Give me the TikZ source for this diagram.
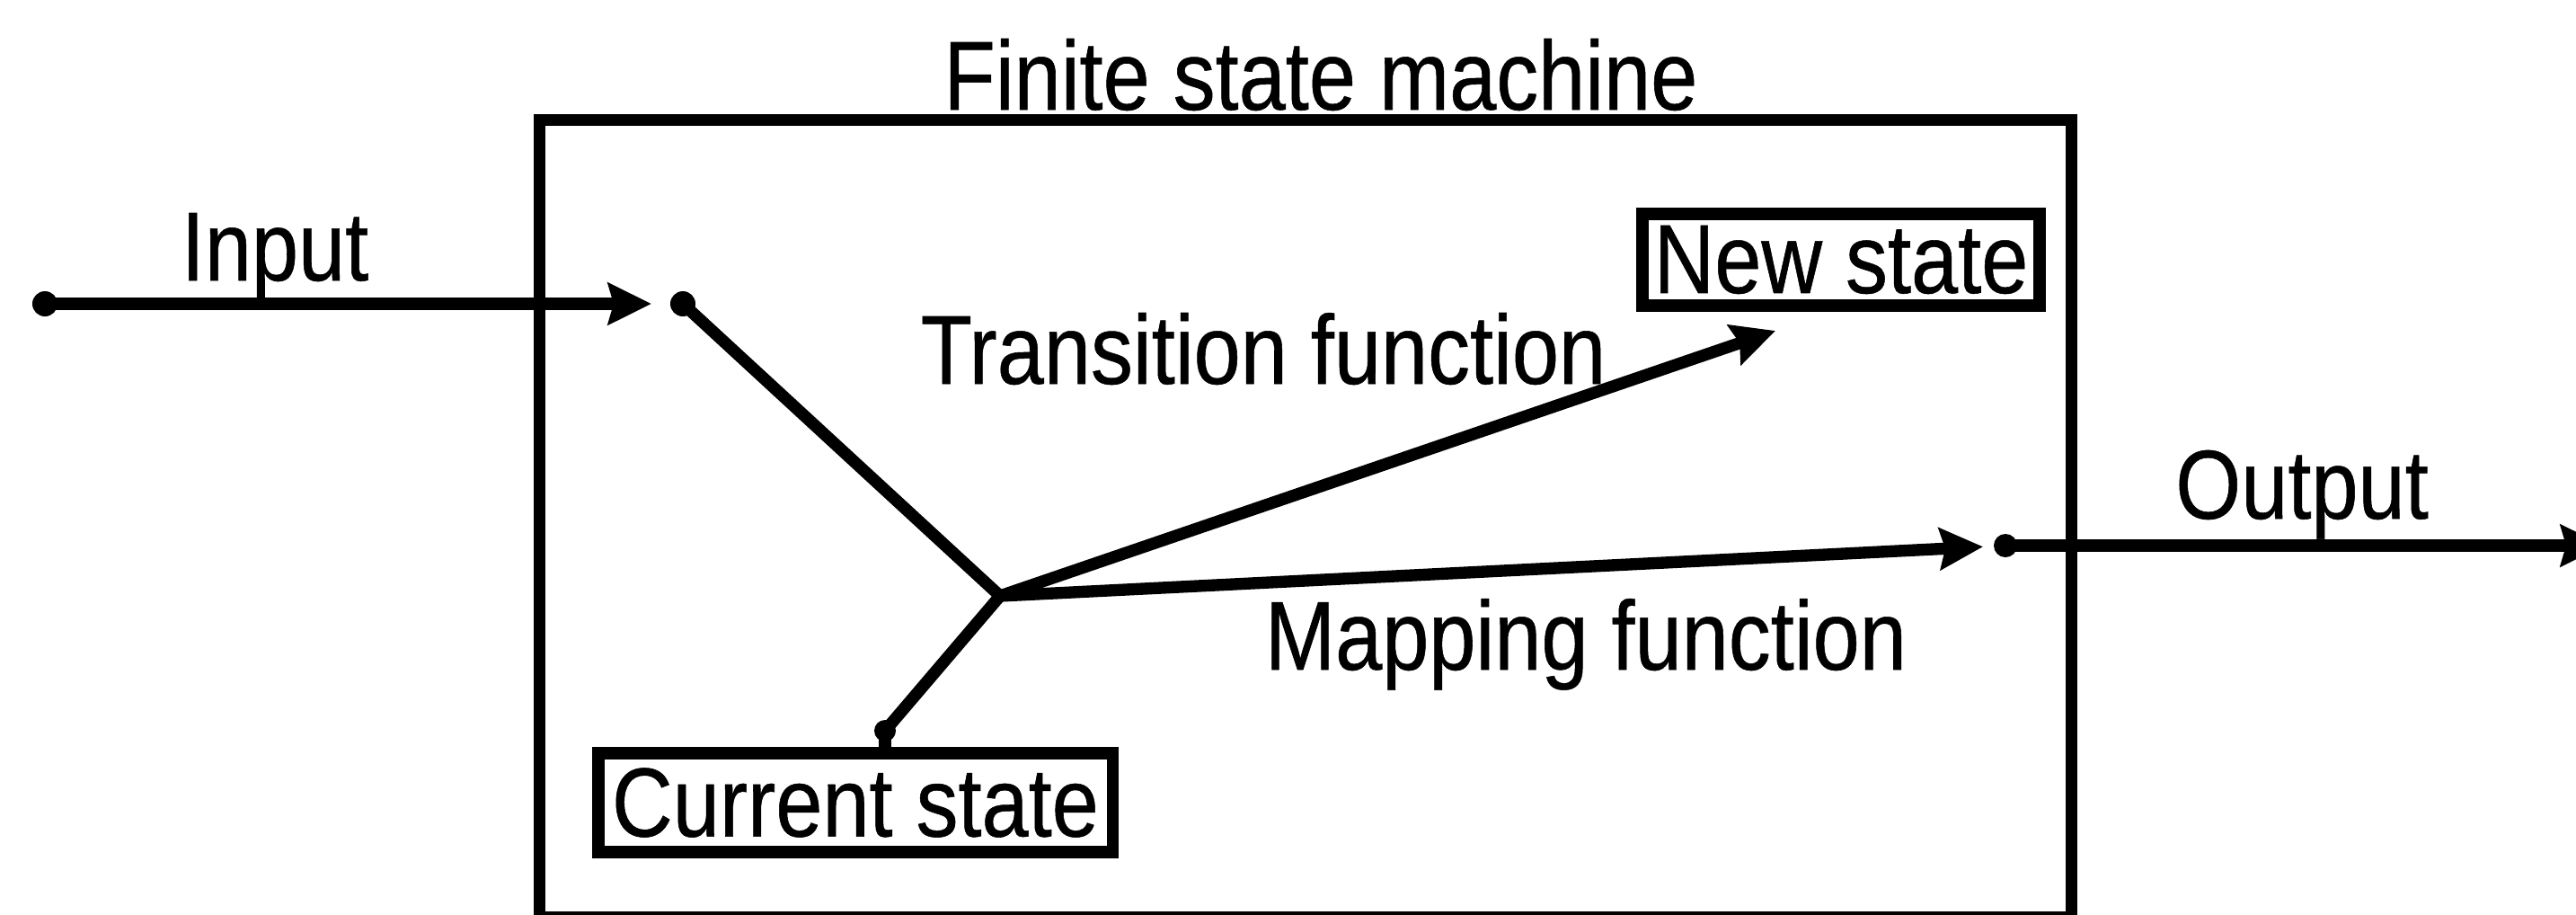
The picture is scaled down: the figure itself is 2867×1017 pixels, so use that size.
\documentclass[tikz,border=0pt]{standalone}
\usepackage{fontspec}
\newfontfamily\lblfont[FakeStretch=0.86,FakeBold=0.5]{Liberation Sans}
\usetikzlibrary{arrows.meta,calc}
\tikzset{
  lbl/.style={font=\lblfont\fontsize{31}{37}\selectfont, inner sep=0pt},
  framebox/.style={draw, line width=3.6pt, inner sep=0pt},
  statebox/.style={draw, line width=3.8pt, inner sep=0pt, lbl},
  wire/.style={line width=3.8pt},
  arr/.style={wire, -{Stealth[length=0.48cm,width=0.46cm,inset=0.06cm]}},
}
\begin{document}
\begin{tikzpicture}[x=0.01cm, y=-0.01cm]
  \useasboundingbox (0,0) rectangle (2867,1017);
  \clip (0,0) rectangle (2867,1017);

  % machine frame and its title
  \node[framebox, minimum width=17.04cm, minimum height=8.86cm] (fsm) at (1453,577) {};
  \node[lbl, anchor=base] (title) at (1470,122) {Finite state machine};

  % state boxes
  \node[statebox, minimum width=5.72cm, minimum height=1.10cm] (cs) at (952,893) {Current state};
  \node[statebox, minimum width=4.42cm, minimum height=1.02cm] (ns) at (2049,289) {New state};

  % connection points
  \coordinate (inL)  at (50,338);
  \coordinate (inP)  at (760,338);
  \coordinate (J)    at (1113,663);
  \coordinate (csP)  at (985,813);
  \coordinate (nsT)  at (1976,368);
  \coordinate (outP) at (2232,607);
  \coordinate (outR) at (2898,607);

  % connectors
  \draw[arr, shorten >=0.35cm] (inL) -- (inP);
  \draw[wire] (inP) -- (J);
  \draw[wire] (J) -- (csP);
  \draw[wire] (csP) -- (csP |- cs.north);
  \draw[arr] (J) -- (nsT);
  \draw[arr, shorten >=0.25cm] (J) -- (outP);
  \draw[arr] (outP) -- (outR);

  % end points
  \fill (inL)  circle (0.14cm);
  \fill (inP)  circle (0.14cm);
  \fill (csP)  circle (0.12cm);
  \fill (outP) circle (0.13cm);

  % labels
  \node[lbl, anchor=base] (linput) at (306,312) {Input};
  \node[lbl, anchor=base] (ltrans) at (1406,427) {Transition function};
  \node[lbl, anchor=base] (lmap) at (1765,745) {Mapping function};
  \node[lbl, anchor=base] (loutput) at (2562,577) {Output};
\end{tikzpicture}
\end{document}
